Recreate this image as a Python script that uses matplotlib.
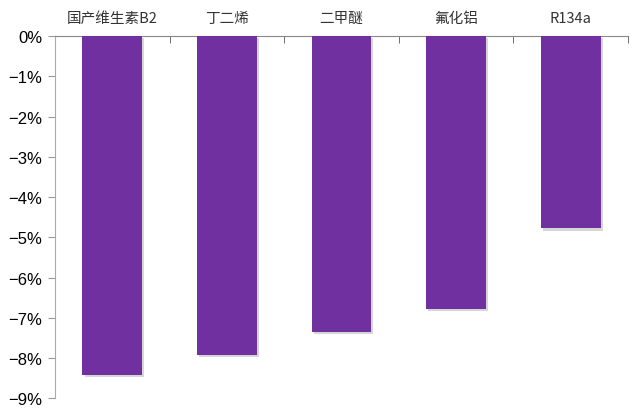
import numpy as np
import matplotlib.pyplot as plt
import matplotlib.patheffects as pe
from matplotlib.ticker import FuncFormatter, FixedLocator

plt.rcParams['font.family'] = ['Liberation Sans', 'Noto Sans CJK SC', 'DejaVu Sans']

categories = ['国产维生素B2', '丁二烯', '二甲醚', '氟化铝', 'R134a']
values = [-8.43, -7.92, -7.35, -6.77, -4.78]
yticks = [0, -1, -2, -3, -4, -5, -6, -7, -8, -9]

fig = plt.figure(figsize=(6.35, 4.1), dpi=100)
ax = fig.add_axes([0.0866, 0.026, 0.9024, 0.8838])

x = np.arange(len(categories))
bars = ax.bar(x, values, width=0.52, color='#7030A0', zorder=3)
for b in bars:
    b.set_path_effects([pe.SimplePatchShadow(offset=(1.5, -1.5), shadow_rgbFace='#999999', alpha=0.4),
                        pe.Normal()])

ax.set_xlim(-0.5, len(categories) - 0.5)
ax.set_ylim(-9, 0)
ax.set_yticks(yticks)
ax.yaxis.set_major_formatter(FuncFormatter(lambda v, p: '0%' if v == 0 else '\u2212%d%%' % abs(v)))

ax.xaxis.tick_top()
ax.set_xticks(x)
ax.set_xticklabels(categories, fontsize=10.5, family=['Noto Sans CJK SC', 'DejaVu Sans'], color='#333333')
ax.xaxis.set_minor_locator(FixedLocator(np.arange(-0.5, len(categories), 1.0)))
ax.tick_params(axis='x', which='major', length=0, pad=8)
ax.tick_params(axis='x', which='minor', direction='in', length=5, color='#555555', top=True)
ax.tick_params(axis='y', direction='out', length=5, color='#999999', labelsize=12, pad=4)

for s in ['right', 'bottom']:
    ax.spines[s].set_visible(False)
ax.spines['top'].set_color('#888888')
ax.spines['left'].set_color('#aaaaaa')

fig.savefig('out.png', dpi=100)
